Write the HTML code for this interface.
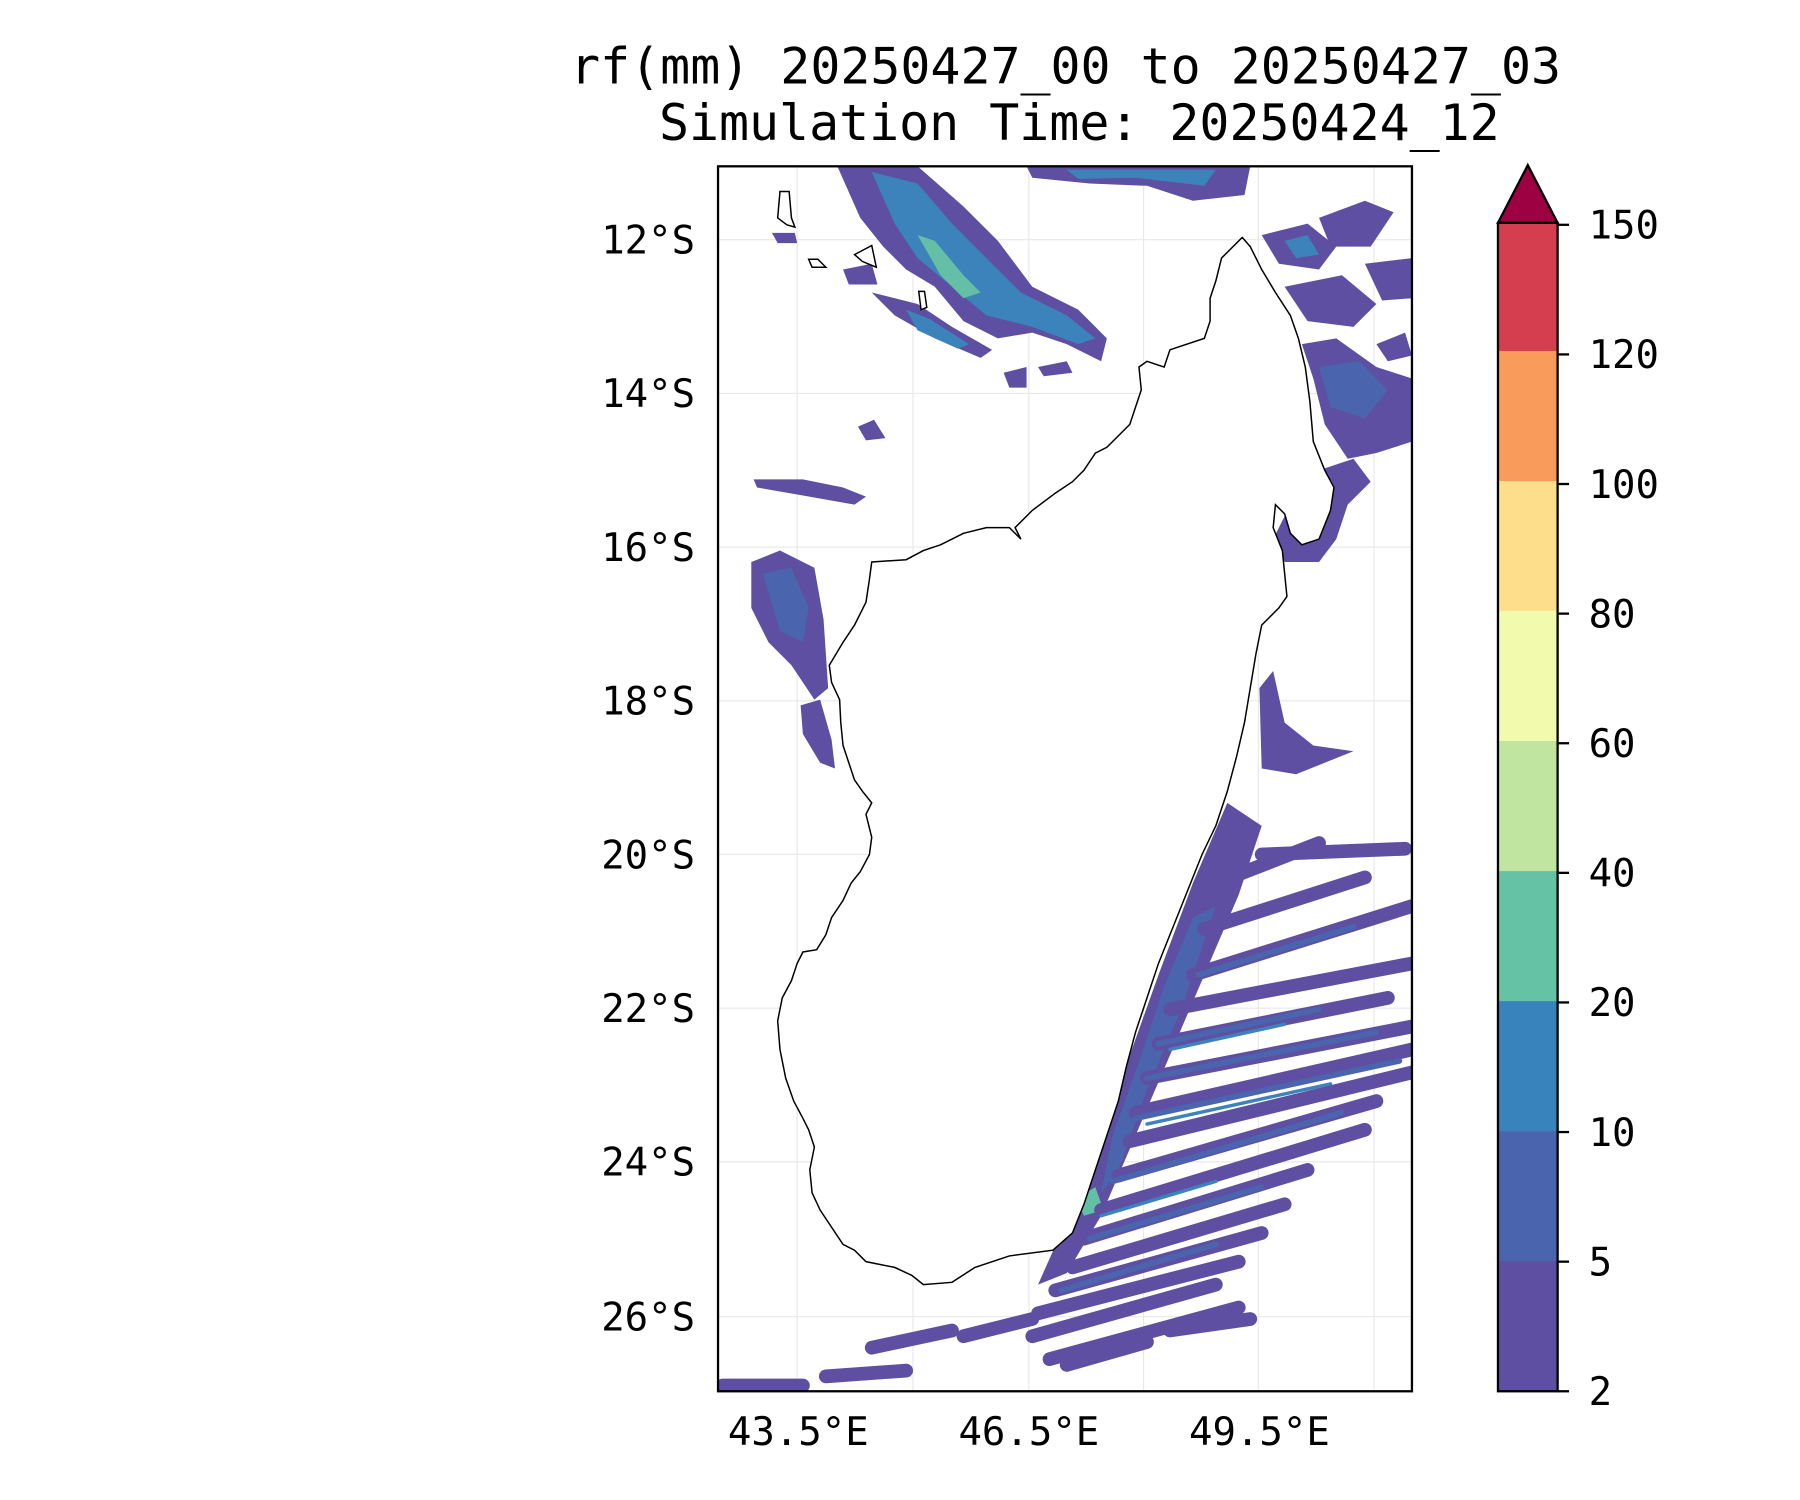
<!DOCTYPE html>
<html><head><meta charset="utf-8"><style>html,body{margin:0;padding:0;background:#fff}svg{display:block}</style></head>
<body>
<svg width="1800" height="1500" viewBox="0 0 1569.3 1307.8" xmlns="http://www.w3.org/2000/svg" font-family="'DejaVu Sans Mono','Liberation Mono',monospace">
<rect width="1569.3" height="1307.8" fill="#fff"/>
<text x="929" y="73" font-size="43.5" text-anchor="middle">rf(mm) 20250427_00 to 20250427_03</text>
<text x="941" y="122" font-size="43.5" text-anchor="middle">Simulation Time: 20250424_12</text>
<defs><clipPath id="c"><rect x="626" y="145" width="605" height="1068"/></clipPath></defs>
<g clip-path="url(#c)">
<g stroke="#e8e8e8" stroke-width="1">
<line x1="695" y1="145" x2="695" y2="1213"/><line x1="796" y1="145" x2="796" y2="1213"/><line x1="897" y1="145" x2="897" y2="1213"/><line x1="997" y1="145" x2="997" y2="1213"/><line x1="1097" y1="145" x2="1097" y2="1213"/><line x1="1198" y1="145" x2="1198" y2="1213"/>
<line x1="626" y1="209" x2="1231" y2="209"/><line x1="626" y1="343" x2="1231" y2="343"/><line x1="626" y1="477" x2="1231" y2="477"/><line x1="626" y1="611" x2="1231" y2="611"/><line x1="626" y1="745" x2="1231" y2="745"/><line x1="626" y1="879" x2="1231" y2="879"/><line x1="626" y1="1013" x2="1231" y2="1013"/><line x1="626" y1="1148" x2="1231" y2="1148"/>
</g>
<!-- NW band -->
<polygon fill="#5e4fa2" points="730,145 800,145 840,180 870,210 900,250 940,270 965,295 960,315 930,300 900,290 870,295 840,280 815,250 790,235 770,215 750,190"/>
<polygon fill="#3c83bb" points="760,150 800,160 830,195 860,225 890,255 930,275 955,295 940,300 900,285 860,275 830,250 800,225 780,195"/>
<polygon fill="#64bfa6" points="800,205 815,210 840,240 855,255 840,260 820,240"/>
<polygon fill="#5e4fa2" points="760,255 800,265 830,285 865,305 855,312 815,295 780,275"/>
<polygon fill="#3c83bb" points="790,270 810,278 845,300 835,304 800,288"/>
<polygon fill="#5e4fa2" points="735,235 760,230 765,248 740,248"/>
<polygon fill="#5e4fa2" points="673,203 693,203 695,212 678,212"/>
<polygon fill="#5e4fa2" points="905,320 930,315 935,325 910,328"/>
<polygon fill="#5e4fa2" points="875,325 895,320 895,338 880,338"/>
<polygon fill="#5e4fa2" points="748,372 762,366 772,382 755,384"/>
<!-- top band -->
<polygon fill="#5e4fa2" points="895,145 1090,145 1085,170 1040,175 1000,162 950,160 900,155"/>
<polygon fill="#3c83bb" points="930,148 1060,148 1050,162 990,155 940,156"/>
<!-- NE region (patchy) -->
<g fill="#5e4fa2">
<polygon points="1100,205 1140,195 1165,215 1150,235 1115,230"/>
<polygon points="1150,190 1190,175 1215,185 1195,215 1160,215"/>
<polygon points="1120,250 1170,240 1200,265 1180,285 1140,280"/>
<polygon points="1190,230 1231,225 1231,260 1205,262"/>
<polygon points="1135,300 1165,295 1200,320 1231,330 1231,385 1200,395 1175,400 1155,370 1145,330"/>
<polygon points="1150,410 1180,400 1195,420 1175,440 1165,470 1150,490 1120,490 1110,470 1120,450 1140,430"/>
<polygon points="1200,300 1225,290 1231,310 1210,315"/>
</g>
<polygon fill="#4a64ad" points="1150,320 1185,315 1210,340 1190,365 1160,355"/>
<polygon fill="#3c83bb" points="1120,210 1140,205 1150,222 1130,225"/>
<!-- W blobs -->
<polygon fill="#5e4fa2" points="657,418 700,418 735,425 755,433 745,440 700,432 660,425"/>
<polygon fill="#5e4fa2" points="655,490 680,480 710,495 718,540 722,600 710,610 690,580 670,560 655,530"/>
<polygon fill="#4a64ad" points="665,500 690,495 705,530 700,560 680,550"/>
<polygon fill="#5e4fa2" points="698,615 715,610 725,645 728,670 715,665 700,640"/>
<!-- E coast central -->
<polygon fill="#5e4fa2" points="1098,600 1110,585 1120,630 1145,650 1180,655 1130,675 1100,670"/>
<!-- coastal band SE -->
<polygon fill="#5e4fa2" points="1070,700 1100,720 1080,780 1050,850 1020,920 990,990 960,1060 930,1110 905,1120 925,1075 945,1030 965,980 985,920 1010,850 1040,770"/>
<polygon fill="#4a64ad" points="1040,800 1060,790 1030,880 1000,950 975,1020 960,1040 970,990 995,920 1015,860"/>
<polygon fill="#64bfa6" points="938,1045 955,1035 962,1055 945,1060"/>
<g stroke-linecap="round" fill="none">
<g stroke="#5e4fa2" stroke-width="12">
<line x1="1060" y1="770" x2="1150" y2="735"/><line x1="1100" y1="745" x2="1225" y2="740"/><line x1="1050" y1="810" x2="1190" y2="765"/><line x1="1040" y1="850" x2="1231" y2="790"/><line x1="1020" y1="880" x2="1231" y2="840"/>
<line x1="1010" y1="910" x2="1210" y2="870"/><line x1="1000" y1="940" x2="1231" y2="895"/><line x1="990" y1="970" x2="1231" y2="915"/><line x1="985" y1="995" x2="1231" y2="935"/>
<line x1="975" y1="1025" x2="1200" y2="960"/><line x1="960" y1="1055" x2="1190" y2="985"/><line x1="945" y1="1080" x2="1140" y2="1020"/><line x1="935" y1="1105" x2="1120" y2="1050"/>
<line x1="920" y1="1125" x2="1100" y2="1075"/><line x1="905" y1="1145" x2="1080" y2="1100"/><line x1="900" y1="1165" x2="1060" y2="1120"/><line x1="915" y1="1185" x2="1080" y2="1140"/>
<line x1="630" y1="1208" x2="700" y2="1208"/><line x1="720" y1="1200" x2="790" y2="1195"/><line x1="760" y1="1175" x2="830" y2="1160"/>
<line x1="840" y1="1165" x2="900" y2="1150"/><line x1="930" y1="1190" x2="1000" y2="1170"/><line x1="1020" y1="1160" x2="1090" y2="1150"/>
</g>
<g stroke="#4a64ad" stroke-width="5">
<line x1="1045" y1="850" x2="1180" y2="808"/><line x1="1010" y1="910" x2="1150" y2="880"/><line x1="1000" y1="940" x2="1200" y2="900"/>
<line x1="990" y1="975" x2="1220" y2="925"/><line x1="970" y1="1030" x2="1170" y2="970"/><line x1="950" y1="1080" x2="1100" y2="1035"/><line x1="925" y1="1125" x2="1060" y2="1085"/>
</g>
<g stroke="#3c83bb" stroke-width="3">
<line x1="1020" y1="915" x2="1120" y2="893"/><line x1="1000" y1="980" x2="1160" y2="945"/><line x1="960" y1="1060" x2="1060" y2="1030"/>
</g>
</g>
<!-- coastline (island masks rain) -->
<polygon fill="#fff" stroke="#000" stroke-width="1.3" points="1083,207 1090,215 1100,235 1112,255 1125,275 1132,295 1138,320 1142,350 1145,385 1155,410 1163,425 1160,445 1150,470 1135,475 1125,465 1120,448 1112,440 1110,460 1118,480 1120,500 1122,520 1115,530 1100,545 1095,570 1090,600 1085,630 1078,660 1070,690 1060,720 1048,745 1038,770 1030,790 1020,815 1010,840 1000,870 990,900 982,930 975,960 965,990 955,1020 945,1050 935,1075 918,1090 880,1095 850,1105 830,1118 805,1120 795,1112 780,1105 755,1100 745,1090 735,1085 725,1070 715,1055 708,1040 706,1020 710,1000 705,985 700,975 692,960 685,940 680,915 678,890 682,870 690,855 695,840 700,830 712,828 720,815 725,800 735,785 742,770 750,760 758,745 760,730 755,710 760,700 752,690 745,680 740,665 735,650 733,630 732,610 725,595 723,580 735,560 745,545 755,525 758,505 760,490 790,488 805,480 820,475 840,465 860,460 880,460 890,470 885,460 900,445 920,430 935,420 945,410 955,395 965,390 975,380 985,370 990,355 995,340 993,320 1000,315 1015,320 1020,305 1035,300 1050,295 1055,280 1055,260 1060,245 1065,225 1075,215"/>
<polygon fill="#fff" stroke="#000" stroke-width="1.3" points="680,167 688,167 690,190 693,198 686,196 678,190"/>
<polygon fill="#fff" stroke="#000" stroke-width="1.3" points="745,222 760,214 764,233 752,228"/>
<polygon fill="#fff" stroke="#000" stroke-width="1.3" points="705,226 713,226 720,233 708,233"/>
<polygon fill="#fff" stroke="#000" stroke-width="1.3" points="801,254 806,254 808,268 803,270"/>
</g>
<rect x="626" y="145" width="605" height="1068" fill="none" stroke="#000" stroke-width="2"/>
<g font-size="34" text-anchor="end">
<text x="606" y="221">12°S</text><text x="606" y="355">14°S</text><text x="606" y="489">16°S</text><text x="606" y="623">18°S</text><text x="606" y="757">20°S</text><text x="606" y="891">22°S</text><text x="606" y="1025">24°S</text><text x="606" y="1160">26°S</text>
</g>
<g font-size="34" text-anchor="middle">
<text x="696" y="1260">43.5°E</text><text x="897" y="1260">46.5°E</text><text x="1098" y="1260">49.5°E</text>
</g>
<g>
<rect x="1306" y="1099.3" width="52" height="113.7" fill="#5e4fa2"/>
<rect x="1306" y="985.9" width="52" height="113.7" fill="#4a64ad"/>
<rect x="1306" y="872.6" width="52" height="113.7" fill="#3883bb"/>
<rect x="1306" y="759.2" width="52" height="113.7" fill="#66c2a5"/>
<rect x="1306" y="645.8" width="52" height="113.7" fill="#bfe5a0"/>
<rect x="1306" y="532.4" width="52" height="113.7" fill="#f2faae"/>
<rect x="1306" y="419" width="52" height="113.7" fill="#fddf8b"/>
<rect x="1306" y="305.7" width="52" height="113.7" fill="#f99c5b"/>
<rect x="1306" y="194.3" width="52" height="111.7" fill="#d53e4f"/>
<polygon points="1306,194.3 1332,144 1358,194.3" fill="#9e0142" stroke="#000" stroke-width="2"/>
<rect x="1306" y="194.3" width="52" height="1018.7" fill="none" stroke="#000" stroke-width="2"/>
<g stroke="#000" stroke-width="2">
<line x1="1358" y1="196" x2="1368" y2="196"/><line x1="1358" y1="309" x2="1368" y2="309"/><line x1="1358" y1="422" x2="1368" y2="422"/><line x1="1358" y1="535" x2="1368" y2="535"/><line x1="1358" y1="648" x2="1368" y2="648"/><line x1="1358" y1="761" x2="1368" y2="761"/><line x1="1358" y1="874" x2="1368" y2="874"/><line x1="1358" y1="987" x2="1368" y2="987"/><line x1="1358" y1="1100" x2="1368" y2="1100"/><line x1="1358" y1="1213" x2="1368" y2="1213"/>
</g>
<g font-size="34">
<text x="1385" y="208">150</text><text x="1385" y="321">120</text><text x="1385" y="434">100</text><text x="1385" y="547">80</text><text x="1385" y="660">60</text><text x="1385" y="773">40</text><text x="1385" y="886">20</text><text x="1385" y="999">10</text><text x="1385" y="1112">5</text><text x="1385" y="1225">2</text>
</g>
</g>
</svg>
</body></html>
